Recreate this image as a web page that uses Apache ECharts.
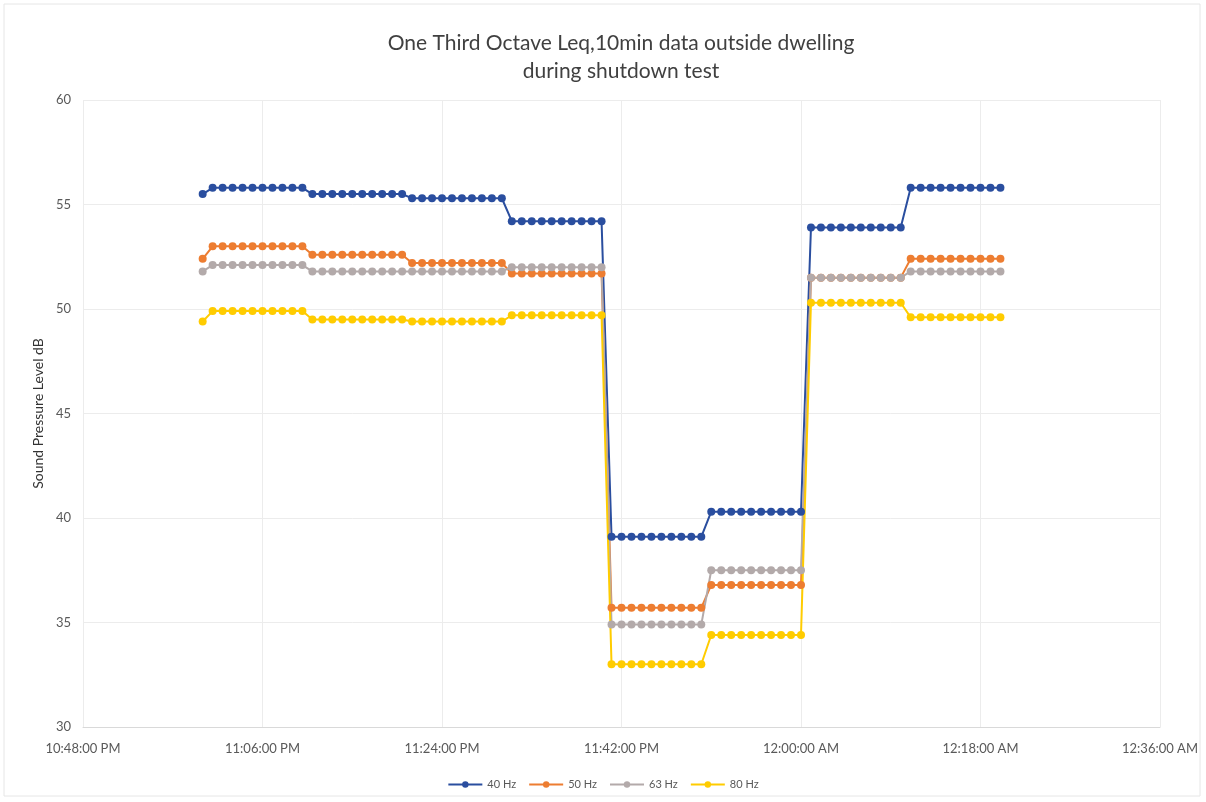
<!DOCTYPE html>
<html lang="en">
<head>
    <meta charset="UTF-8">
    <script src="https://cdn.jsdelivr.net/npm/echarts@6/dist/echarts.min.js"></script>
    <title>One Third Octave Leq</title>
    <style>html, body { margin: 0; padding: 0; background: #fff; }</style>
</head>
<body>
<div id="main" style="width: 1206px;height:802px;"></div>

<script>
    // minutes since midnight of the first day (1440 = 12:00 AM next day)
    var times = [1380,
        1381, 1382, 1383, 1384, 1385, 1386, 1387, 1388, 1389, 1390,
        1391, 1392, 1393, 1394, 1395, 1396, 1397, 1398, 1399, 1400,
        1401, 1402, 1403, 1404, 1405, 1406, 1407, 1408, 1409, 1410,
        1411, 1412, 1413, 1414, 1415, 1416, 1417, 1418, 1419, 1420,
        1421, 1422, 1423, 1424, 1425, 1426, 1427, 1428, 1429, 1430,
        1431, 1432, 1433, 1434, 1435, 1436, 1437, 1438, 1439, 1440,
        1441, 1442, 1443, 1444, 1445, 1446, 1447, 1448, 1449, 1450,
        1451, 1452, 1453, 1454, 1455, 1456, 1457, 1458, 1459, 1460];

    var hz40 = [55.5,
        55.8, 55.8, 55.8, 55.8, 55.8, 55.8, 55.8, 55.8, 55.8, 55.8,
        55.5, 55.5, 55.5, 55.5, 55.5, 55.5, 55.5, 55.5, 55.5, 55.5,
        55.3, 55.3, 55.3, 55.3, 55.3, 55.3, 55.3, 55.3, 55.3, 55.3,
        54.2, 54.2, 54.2, 54.2, 54.2, 54.2, 54.2, 54.2, 54.2, 54.2,
        39.1, 39.1, 39.1, 39.1, 39.1, 39.1, 39.1, 39.1, 39.1, 39.1,
        40.3, 40.3, 40.3, 40.3, 40.3, 40.3, 40.3, 40.3, 40.3, 40.3,
        53.9, 53.9, 53.9, 53.9, 53.9, 53.9, 53.9, 53.9, 53.9, 53.9,
        55.8, 55.8, 55.8, 55.8, 55.8, 55.8, 55.8, 55.8, 55.8, 55.8];

    var hz50 = [52.4,
        53.0, 53.0, 53.0, 53.0, 53.0, 53.0, 53.0, 53.0, 53.0, 53.0,
        52.6, 52.6, 52.6, 52.6, 52.6, 52.6, 52.6, 52.6, 52.6, 52.6,
        52.2, 52.2, 52.2, 52.2, 52.2, 52.2, 52.2, 52.2, 52.2, 52.2,
        51.7, 51.7, 51.7, 51.7, 51.7, 51.7, 51.7, 51.7, 51.7, 51.7,
        35.7, 35.7, 35.7, 35.7, 35.7, 35.7, 35.7, 35.7, 35.7, 35.7,
        36.8, 36.8, 36.8, 36.8, 36.8, 36.8, 36.8, 36.8, 36.8, 36.8,
        51.5, 51.5, 51.5, 51.5, 51.5, 51.5, 51.5, 51.5, 51.5, 51.5,
        52.4, 52.4, 52.4, 52.4, 52.4, 52.4, 52.4, 52.4, 52.4, 52.4];

    var hz63 = [51.8,
        52.1, 52.1, 52.1, 52.1, 52.1, 52.1, 52.1, 52.1, 52.1, 52.1,
        51.8, 51.8, 51.8, 51.8, 51.8, 51.8, 51.8, 51.8, 51.8, 51.8,
        51.8, 51.8, 51.8, 51.8, 51.8, 51.8, 51.8, 51.8, 51.8, 51.8,
        52.0, 52.0, 52.0, 52.0, 52.0, 52.0, 52.0, 52.0, 52.0, 52.0,
        34.9, 34.9, 34.9, 34.9, 34.9, 34.9, 34.9, 34.9, 34.9, 34.9,
        37.5, 37.5, 37.5, 37.5, 37.5, 37.5, 37.5, 37.5, 37.5, 37.5,
        51.5, 51.5, 51.5, 51.5, 51.5, 51.5, 51.5, 51.5, 51.5, 51.5,
        51.8, 51.8, 51.8, 51.8, 51.8, 51.8, 51.8, 51.8, 51.8, 51.8];

    var hz80 = [49.4,
        49.9, 49.9, 49.9, 49.9, 49.9, 49.9, 49.9, 49.9, 49.9, 49.9,
        49.5, 49.5, 49.5, 49.5, 49.5, 49.5, 49.5, 49.5, 49.5, 49.5,
        49.4, 49.4, 49.4, 49.4, 49.4, 49.4, 49.4, 49.4, 49.4, 49.4,
        49.7, 49.7, 49.7, 49.7, 49.7, 49.7, 49.7, 49.7, 49.7, 49.7,
        33.0, 33.0, 33.0, 33.0, 33.0, 33.0, 33.0, 33.0, 33.0, 33.0,
        34.4, 34.4, 34.4, 34.4, 34.4, 34.4, 34.4, 34.4, 34.4, 34.4,
        50.3, 50.3, 50.3, 50.3, 50.3, 50.3, 50.3, 50.3, 50.3, 50.3,
        49.6, 49.6, 49.6, 49.6, 49.6, 49.6, 49.6, 49.6, 49.6, 49.6];

    var seriesNames = ['40 Hz', '50 Hz', '63 Hz', '80 Hz'];
    var seriesColors = ['#2A4E9F', '#ED7D31', '#B3AAAA', '#FFCC00'];
    var seriesData = [hz40, hz50, hz63, hz80];

    function clockLabel(min) {
        var m = ((min % 1440) + 1440) % 1440;
        var h = Math.floor(m / 60);
        var mm = m % 60;
        var ampm = h >= 12 ? 'PM' : 'AM';
        var h12 = h % 12 === 0 ? 12 : h % 12;
        return h12 + ':' + (mm < 10 ? '0' : '') + mm + ':00 ' + ampm;
    }

    var chart = echarts.init(document.getElementById('main'));
    var font = 'Lato, "Open Sans", sans-serif';

    var series = seriesNames.map(function (name, i) {
        return {
            name: name,
            type: 'line',
            symbol: 'circle',
            symbolSize: 8,
            showAllSymbol: true,
            lineStyle: { width: 2, color: seriesColors[i] },
            itemStyle: { color: seriesColors[i] },
            data: times.map(function (t, k) { return [t, seriesData[i][k]]; })
        };
    });

    var option = {
        backgroundColor: '#fff',
        animation: false,
        title: {
            text: 'One Third Octave Leq,10min data outside dwelling\nduring shutdown test',
            left: 616,
            textAlign: 'center',
            top: 24,
            textStyle: {
                fontFamily: font,
                fontSize: 21,
                fontWeight: 'normal',
                color: '#404040',
                lineHeight: 28
            }
        },
        legend: {
            bottom: 7,
            left: 'center',
            itemWidth: 34,
            itemHeight: 8,
            itemGap: 12,
            textStyle: { fontFamily: font, fontSize: 11, color: '#595959' },
            data: seriesNames
        },
        graphic: [{
            type: 'rect',
            shape: { x: 4, y: 4, width: 1196, height: 792 },
            style: { fill: 'none', stroke: '#e6e6e6', lineWidth: 1 },
            silent: true
        }],
        grid: { left: 83, right: 46, top: 100, bottom: 75 },
        xAxis: {
            type: 'value',
            min: 1368,
            max: 1476,
            interval: 18,
            axisLine: { show: true, lineStyle: { color: '#d9d9d9' } },
            axisTick: { show: false },
            axisLabel: {
                fontFamily: font,
                fontSize: 13,
                color: '#595959',
                margin: 15,
                formatter: clockLabel
            },
            splitLine: { show: true, lineStyle: { color: '#ececec' } }
        },
        yAxis: {
            type: 'value',
            min: 30,
            max: 60,
            interval: 5,
            name: 'Sound Pressure Level dB',
            nameLocation: 'middle',
            nameGap: 36,
            nameRotate: 90,
            nameTextStyle: { fontFamily: font, fontSize: 14, color: '#333' },
            axisLine: { show: false },
            axisTick: { show: false },
            axisLabel: { fontFamily: font, fontSize: 13, color: '#595959', margin: 12 },
            splitLine: { show: true, lineStyle: { color: '#ececec' } }
        },
        series: series
    };

    chart.setOption(option);
</script>
</body>
</html>
